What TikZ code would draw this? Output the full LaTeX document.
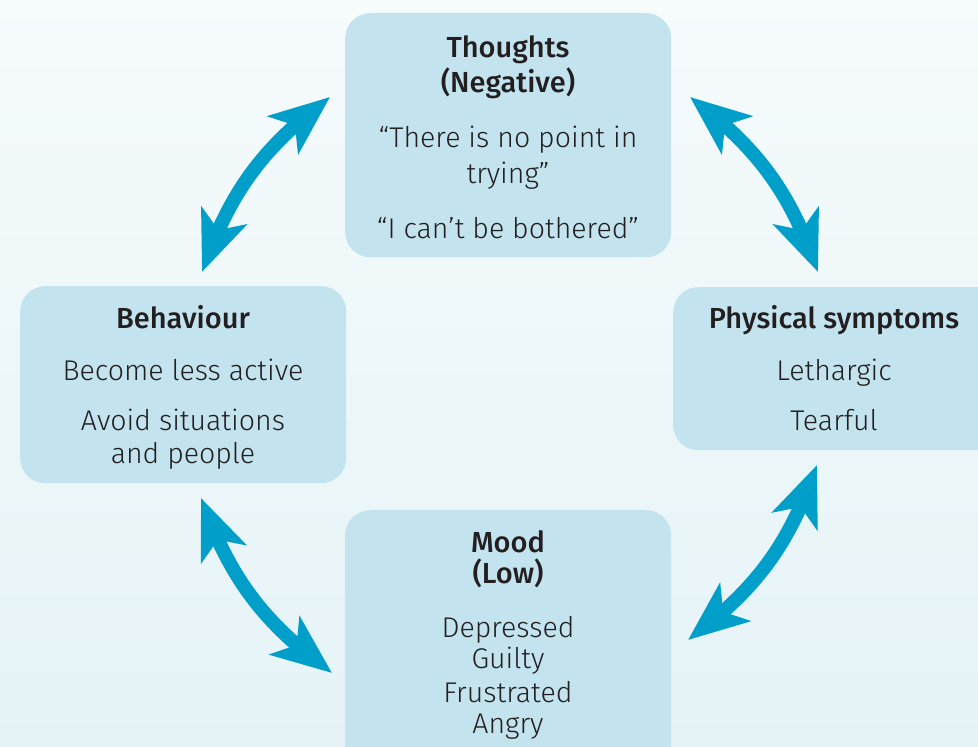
\documentclass[tikz,border=0pt]{standalone}
\usepackage{fontspec}
\setmainfont{Fira Sans}
\newfontfamily\lightfont{Fira Sans Light}
\newfontfamily\medfont{Fira Sans Medium}
\usetikzlibrary{arrows.meta,bending}
\definecolor{bgtop}{HTML}{F6FBFC}
\definecolor{bgbot}{HTML}{E5F3F7}
\definecolor{boxfill}{HTML}{C3E4EF}
\definecolor{arrowblue}{HTML}{009FCA}
\definecolor{txt}{HTML}{231F20}
\begin{document}
\begin{tikzpicture}[x=1pt,y=-1pt,
  box/.style={fill=boxfill, rounded corners=25pt, inner sep=0pt, anchor=north west},
  head/.style={font=\medfont\fontsize{29}{30}\selectfont, text=txt, anchor=base, inner sep=0pt},
  body/.style={font=\lightfont\fontsize{28.5}{30}\selectfont, text=txt, anchor=base, inner sep=0pt},
  cyc/.style={draw=arrowblue, line width=14pt,
    {Stealth[length=60pt,width=48pt,inset=15pt]}-{Stealth[length=60pt,width=48pt,inset=15pt]}}
]
\useasboundingbox (0,0) rectangle (978,747);
\clip (0,0) rectangle (978,747);
\shade[top color=bgtop, bottom color=bgbot] (0,0) rectangle (978,747);

% boxes
\node[box, minimum width=326pt, minimum height=244pt] (thoughts) at (345,13) {};
\node[box, minimum width=326pt, minimum height=197pt] (behav) at (20,286) {};
\node[box, minimum width=330pt, minimum height=163pt] (phys) at (673,287) {};
\node[box, minimum width=326pt, minimum height=270pt] (mood) at (345,510) {};

% thoughts
\node[head] (t1) at (508,57) {Thoughts};
\node[head] (t2) at (508,92) {(Negative)};
\node[body] (t3) at (508,147) {“There is no point in};
\node[body] (t4) at (508,183) {trying”};
\node[body] (t5) at (508,238) {“I can’t be bothered”};

% behaviour
\node[head] (b1) at (183,328) {Behaviour};
\node[body] (b2) at (183,380) {Become less active};
\node[body] (b3) at (183,430) {Avoid situations};
\node[body] (b4) at (183,463) {and people};

% physical
\node[head] (p1) at (834,328) {Physical symptoms};
\node[body] (p2) at (834,380) {Lethargic};
\node[body] (p3) at (834,430) {Tearful};

% mood
\node[head] (m1) at (508,552) {Mood};
\node[head] (m2) at (508,583) {(Low)};
\node[body] (m3) at (508,637) {Depressed};
\node[body] (m4) at (508,668) {Guilty};
\node[body] (m5) at (508,702) {Frustrated};
\node[body] (m6) at (508,733) {Angry};

% arrow end points
\coordinate (a1) at (202,272);
\coordinate (e1) at (330,97);
\coordinate (a2) at (690,97);
\coordinate (e2) at (818,272);
\coordinate (a3) at (817,465);
\coordinate (e3) at (688,640);
\coordinate (a4) at (201,498);
\coordinate (e4) at (332,673);

\draw[cyc] (a1) to[bend left=17] (e1);
\draw[cyc] (a2) to[bend left=17] (e2);
\draw[cyc] (a3) to[bend left=17] (e3);
\draw[cyc] (a4) to[bend right=17] (e4);
\end{tikzpicture}
\end{document}
